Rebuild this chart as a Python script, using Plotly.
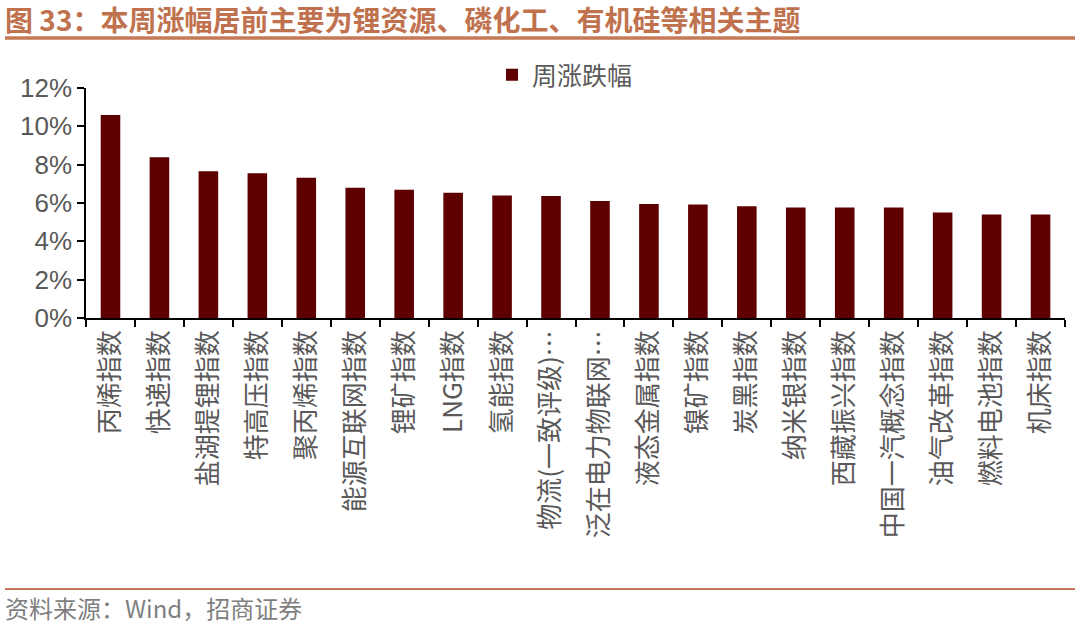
import plotly.graph_objects as go

categories = ["丙烯指数", "快递指数", "盐湖提锂指数", "特高压指数", "聚丙烯指数",
              "能源互联网指数", "锂矿指数", "LNG指数", "氢能指数", "物流(一致评级)…",
              "泛在电力物联网…", "液态金属指数", "镍矿指数", "炭黑指数", "纳米银指数",
              "西藏振兴指数", "中国一汽概念指数", "油气改革指数", "燃料电池指数", "机床指数"]
values = [10.59, 8.39, 7.65, 7.55, 7.32, 6.79, 6.69, 6.53, 6.39, 6.36,
          6.11, 5.95, 5.92, 5.83, 5.77, 5.77, 5.77, 5.50, 5.40, 5.40]
series_name = "周涨跌幅"
y_ticks = [0, 2, 4, 6, 8, 10, 12]
y_ticklabels = ["0%", "2%", "4%", "6%", "8%", "10%", "12%"]
title_text = "图 33：本周涨幅居前主要为锂资源、磷化工、有机硅等相关主题"
source_text = "资料来源：Wind，招商证券"

W, H = 1080, 625
L, R, T, B = 86, 15, 88, 307

fig = go.Figure()
fig.add_trace(go.Bar(
    x=categories, y=values, name=series_name,
    marker=dict(color="#5E0000", line=dict(width=0)),
    showlegend=True,
))

font_cjk = "Noto Sans CJK SC"
grey = "#595959"

pw = W - L - R
ph = H - T - B
def px_x(x):
    return (x - L) / pw
def px_y(y):
    return ((H - B) - y) / ph

fig.update_layout(
    width=W, height=H,
    margin=dict(l=L, r=R, t=T, b=B),
    paper_bgcolor="white", plot_bgcolor="white",
    bargap=0.6,
    font=dict(family=font_cjk, color=grey),
    showlegend=True,
    legend=dict(
        orientation="h", x=px_x(492), y=px_y(75), xanchor="left", yanchor="middle",
        font=dict(size=25, color=grey, family=font_cjk),
        bgcolor="rgba(0,0,0,0)",
    ),
    xaxis=dict(
        type="category",
        showline=True, linecolor="black", linewidth=1.5,
        ticks="outside", tickson="boundaries", ticklen=7, tickcolor="black", tickwidth=1.5,
        tickangle=-90,
        tickfont=dict(size=26, color=grey, family=font_cjk),
        showgrid=False,
    ),
    yaxis=dict(
        range=[0, 12],
        tickvals=y_ticks, ticktext=y_ticklabels,
        showline=True, linecolor="black", linewidth=1.5,
        ticks="outside", ticklen=7, tickcolor="black", tickwidth=1.5,
        tickfont=dict(size=26, color=grey, family="Liberation Sans, Arial"),
        showgrid=False, zeroline=False,
    ),
)

# Title
fig.add_annotation(
    xref="paper", yref="paper", x=px_x(3), y=px_y(19),
    xanchor="left", yanchor="middle", showarrow=False,
    text="<b>" + title_text + "</b>",
    font=dict(size=28, color="#C0724E", family=font_cjk),
)
# Footer
fig.add_annotation(
    xref="paper", yref="paper", x=px_x(3), y=px_y(607),
    xanchor="left", yanchor="middle", showarrow=False,
    text=source_text,
    font=dict(size=24, color="#7F7F7F", family=font_cjk),
)

fig.add_shape(type="line", xref="paper", yref="paper",
              x0=px_x(5), x1=px_x(1075), y0=px_y(38), y1=px_y(38),
              line=dict(color="#C57A57", width=3.5))
fig.add_shape(type="line", xref="paper", yref="paper",
              x0=px_x(5), x1=px_x(1075), y0=px_y(589), y1=px_y(589),
              line=dict(color="#C57A57", width=2))

fig.write_html("out.html", config={"displayModeBar": False},
               post_script="document.body.style.margin='0';document.body.style.overflow='hidden';")
